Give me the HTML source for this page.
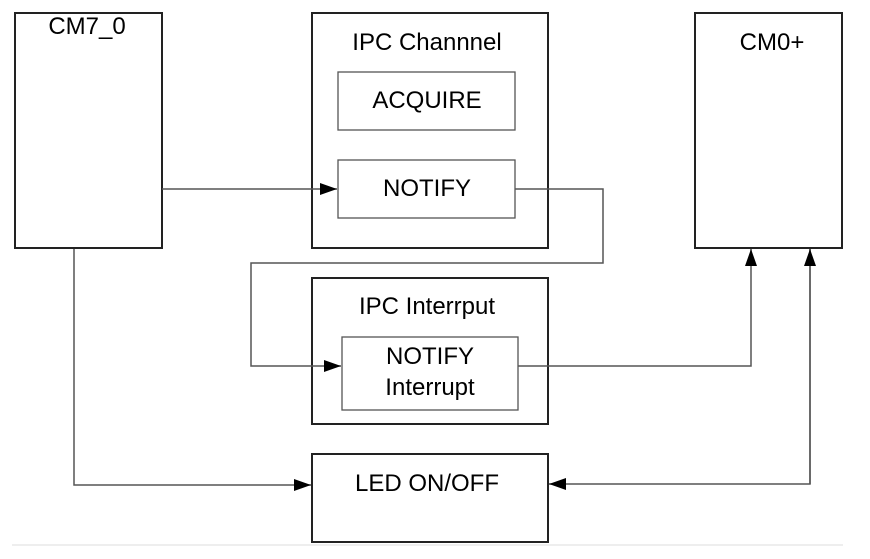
<!DOCTYPE html>
<html><head><meta charset="utf-8"><style>
body{margin:0;background:#fff}
svg text{font-family:"Liberation Sans",Arial,sans-serif;font-size:24px;fill:#000}
</style></head><body>
<svg width="870" height="554" xmlns="http://www.w3.org/2000/svg">
<defs>
<marker id="b" markerWidth="18" markerHeight="12" refX="17" refY="6" orient="auto" markerUnits="userSpaceOnUse"><path d="M0,0 L17,6 L0,12z" fill="#000"/></marker></defs>
<g fill="none" stroke="#222" stroke-width="2">
<rect x="15" y="13" width="147" height="235"/>
<rect x="312" y="13" width="236" height="235"/>
<rect x="695" y="13" width="147" height="235"/>
<rect x="312" y="278" width="236" height="146"/>
<rect x="312" y="454" width="236" height="88"/>
</g>
<g fill="none" stroke="#555" stroke-width="1.3">
<rect x="338" y="72" width="177" height="58"/>
<rect x="338" y="160" width="177" height="58"/>
<rect x="342" y="337" width="176" height="73"/>
</g>
<g fill="none" stroke="#555" stroke-width="1.5">
<path d="M162,189 H337" marker-end="url(#b)"/>
<path d="M515,189 H603 V263 H251 V366 H341" marker-end="url(#b)"/>
<path d="M518,366 H751 V249" marker-end="url(#b)"/>
<path d="M74,249 V485 H311" marker-end="url(#b)"/>
<path d="M810,249 V484 H549" marker-end="url(#b)"/>
<path d="M810,484 V249" marker-end="url(#b)"/>
</g>
<line x1="12" y1="545" x2="843" y2="545" stroke="#ddd" stroke-width="1"/>
<text x="87" y="34" text-anchor="middle">CM7_0</text>
<text x="427" y="50" text-anchor="middle">IPC Channnel</text>
<text x="427" y="108" text-anchor="middle">ACQUIRE</text>
<text x="427" y="196" text-anchor="middle">NOTIFY</text>
<text x="772" y="50" text-anchor="middle">CM0+</text>
<text x="427" y="314" text-anchor="middle">IPC Interrput</text>
<text x="430" y="364" text-anchor="middle">NOTIFY</text>
<text x="430" y="395" text-anchor="middle">Interrupt</text>
<text x="427" y="491" text-anchor="middle">LED ON/OFF</text>
</svg>
</body></html>
